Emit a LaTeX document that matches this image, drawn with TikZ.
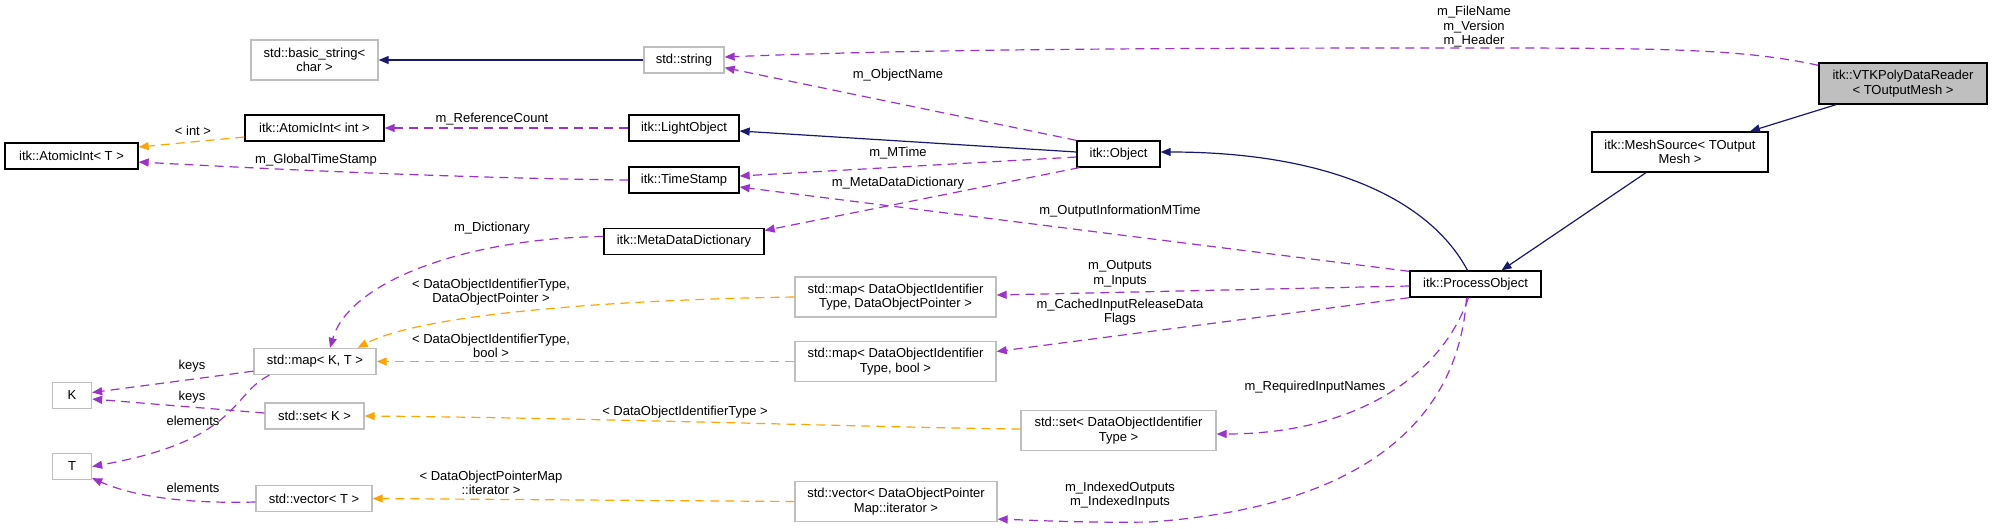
\documentclass[tikz,border=0pt]{standalone}
\usepackage{fontspec}
\setmainfont{Liberation Sans}
\usetikzlibrary{arrows.meta,calc}
\definecolor{navyc}{HTML}{191970}
\definecolor{purpc}{HTML}{9A32CD}
\definecolor{orngc}{HTML}{FFA500}
\definecolor{grayc}{HTML}{BFBFBF}
\newcommand\dgfont{\fontsize{13}{14.5}\selectfont}
\tikzset{
  cls/.style={draw=black, line width=1.3pt, fill=white, align=center, inner sep=0pt, font=\dgfont},
  ext/.style={cls, draw=grayc},
  mainc/.style={cls, fill=grayc},
  lab/.style={align=center, inner sep=0pt, font=\dgfont},
  tip/.style={-{Triangle[length=10pt,width=8pt]}},
  inh/.style={draw=navyc, line width=1.2pt, tip},
  use/.style={draw=purpc, line width=1.2pt, dash pattern=on 9pt off 6pt, tip},
  tmpl/.style={draw=orngc, line width=1.2pt, dash pattern=on 9pt off 6pt, tip},
}
\begin{document}
\begin{tikzpicture}[x=1pt,y=-1pt]
\useasboundingbox (0,0) rectangle (1992,528);
% nodes
\node[ext, minimum width=127pt, minimum height=40pt] (bstr) at (314.5,60) {std::basic\_string<\\char >};
\node[ext, minimum width=80pt, minimum height=26pt] (str) at (684,60) {std::string};
\node[cls, minimum width=139pt, minimum height=26pt] (aint) at (314.5,128) {itk::AtomicInt< int >};
\node[cls, minimum width=133pt, minimum height=26pt] (aT) at (71.5,156) {itk::AtomicInt< T >};
\node[cls, minimum width=110pt, minimum height=26pt] (light) at (684,128) {itk::LightObject};
\node[cls, minimum width=110pt, minimum height=26pt] (ts) at (684,180) {itk::TimeStamp};
\node[cls, minimum width=83pt, minimum height=26pt] (obj) at (1118.5,154) {itk::Object};
\node[mainc, minimum width=168pt, minimum height=41pt] (vtk) at (1903,83.5) {itk::VTKPolyDataReader\\< TOutputMesh >};
\node[cls, minimum width=176pt, minimum height=40pt] (mesh) at (1680,152) {itk::MeshSource< TOutput\\Mesh >};
\node[cls, minimum width=160pt, minimum height=26pt] (mdd) at (684,241.5) {itk::MetaDataDictionary};
\node[cls, minimum width=131pt, minimum height=26pt] (po) at (1475.5,284) {itk::ProcessObject};
\node[ext, minimum width=201pt, minimum height=40pt] (mapDP) at (895.5,297) {std::map< DataObjectIdentifier\\Type, DataObjectPointer >};
\node[ext, minimum width=201pt, minimum height=40pt] (mapB) at (895.5,361.5) {std::map< DataObjectIdentifier\\Type, bool >};
\node[ext, minimum width=195pt, minimum height=40pt] (setD) at (1118.5,430.5) {std::set< DataObjectIdentifier\\Type >};
\node[ext, minimum width=202pt, minimum height=40pt] (vecD) at (896,501.5) {std::vector< DataObjectPointer\\Map::iterator >};
\node[ext, minimum width=122pt, minimum height=26pt] (mapKT) at (315,361.5) {std::map< K, T >};
\node[ext, minimum width=39pt, minimum height=26pt] (K) at (72,395.5) {K};
\node[ext, minimum width=99pt, minimum height=26pt] (setK) at (314.5,416) {std::set< K >};
\node[ext, minimum width=39pt, minimum height=26pt] (T) at (72,466.5) {T};
\node[ext, minimum width=116pt, minimum height=26pt] (vecT) at (314,498.5) {std::vector< T >};
% inheritance
\draw[inh] (str.west) -- (bstr.east);
\draw[inh] ($(obj.west)+(0,-2)$) -- ($(light.east)+(0,3)$);
\draw[inh] ($(po.north)+(-8,0)$) .. controls (1430,200) and (1330,152) .. ($(obj.east)+(0,-2)$);
\draw[inh] ($(vtk.south)+(-67,0)$) -- ($(mesh.north)+(70,0)$);
\draw[inh] ($(mesh.south)+(-34,0)$) -- ($(po.north)+(26,0)$);
% usage
\draw[use] ($(vtk.north west)+(0,3)$) .. controls (1740,48) and (1650,48) .. (1450,48) .. controls (1100,48) and (900,50) .. ($(str.east)+(0,-3)$);
\draw[use] (obj.north west) -- ($(str.south east)+(0,-6)$);
\draw[use] (light.west) -- (aint.east);
\draw[use] (ts.west) .. controls (450,178) and (250,168) .. ($(aT.east)+(0,6)$);
\draw[use] ($(obj.west)+(0,3)$) -- ($(ts.east)+(0,-4)$);
\draw[use] ($(obj.south west)+(3,0)$) -- ($(mdd.east)+(0,-11)$);
\draw[use] ($(po.north west)+(0,1)$) -- ($(ts.east)+(0,7)$);
\draw[use] ($(mdd.west)+(0,-5)$) .. controls (470,238) and (350,280) .. ($(mapKT.north)+(15,0)$);
\draw[use] ($(po.west)+(0,2)$) -- ($(mapDP.east)+(0,-2)$);
\draw[use] (po.south west) -- ($(mapB.east)+(0,-10)$);
\draw[use] ($(po.south)+(-7,0)$) .. controls (1440,380) and (1350,434) .. ($(setD.east)+(0,3.5)$);
\draw[use] ($(po.south)+(-9,0)$) .. controls (1460,400) and (1390,505) .. (1150,522) .. controls (1080,523) and (1030,520) .. ($(vecD.south east)+(0,-3)$);
\draw[use] ($(mapKT.south west)+(0,-4)$) -- ($(K.east)+(0,-3)$);
\draw[use] ($(setK.west)+(0,-3)$) -- ($(K.east)+(0,3.5)$);
\draw[use] ($(mapKT.south west)+(16,0)$) .. controls (230,395) and (240,440) .. (T.east);
\draw[use] ($(vecT.west)+(0,3.5)$) .. controls (180,504) and (130,495) .. ($(T.south east)+(0,-2)$);
% template instances
\draw[tmpl] ($(aint.west)+(0,9)$) -- ($(aT.east)+(0,-9)$);
\draw[tmpl] (mapDP.west) .. controls (600,300) and (420,315) .. ($(mapKT.north east)+(-19,0)$);
\draw[tmpl] (mapB.west) -- (mapKT.east);
\draw[tmpl] ($(setD.west)+(0,-1.5)$) .. controls (900,428) and (600,418) .. (setK.east);
\draw[tmpl] (vecD.west) -- (vecT.east);
% labels
\node[lab] (l1) at (1474,27) {m\_FileName\\m\_Version\\m\_Header};
\node[lab] (l2) at (898,75) {m\_ObjectName};
\node[lab] (l3) at (492,119) {m\_ReferenceCount};
\node[lab] (l4) at (193,131) {< int >};
\node[lab] (l5) at (316,160) {m\_GlobalTimeStamp};
\node[lab] (l6) at (898,153) {m\_MTime};
\node[lab] (l7) at (898,183) {m\_MetaDataDictionary};
\node[lab] (l8) at (492,228) {m\_Dictionary};
\node[lab] (l9) at (1120,211) {m\_OutputInformationMTime};
\node[lab] (l10) at (1120,274) {m\_Outputs\\m\_Inputs};
\node[lab] (l11) at (1120,312) {m\_CachedInputReleaseData\\Flags};
\node[lab] (l12) at (491,292) {< DataObjectIdentifierType,\\DataObjectPointer >};
\node[lab] (l13) at (491,346) {< DataObjectIdentifierType,\\bool >};
\node[lab] (l14) at (192,366) {keys};
\node[lab] (l15) at (192,397) {keys};
\node[lab] (l16) at (193,421) {elements};
\node[lab] (l17) at (193,488) {elements};
\node[lab] (l18) at (685,412) {< DataObjectIdentifierType >};
\node[lab] (l19) at (1315,387) {m\_RequiredInputNames};
\node[lab] (l20) at (491,483) {< DataObjectPointerMap\\::iterator >};
\node[lab] (l21) at (1120,495) {m\_IndexedOutputs\\m\_IndexedInputs};
\end{tikzpicture}
\end{document}
